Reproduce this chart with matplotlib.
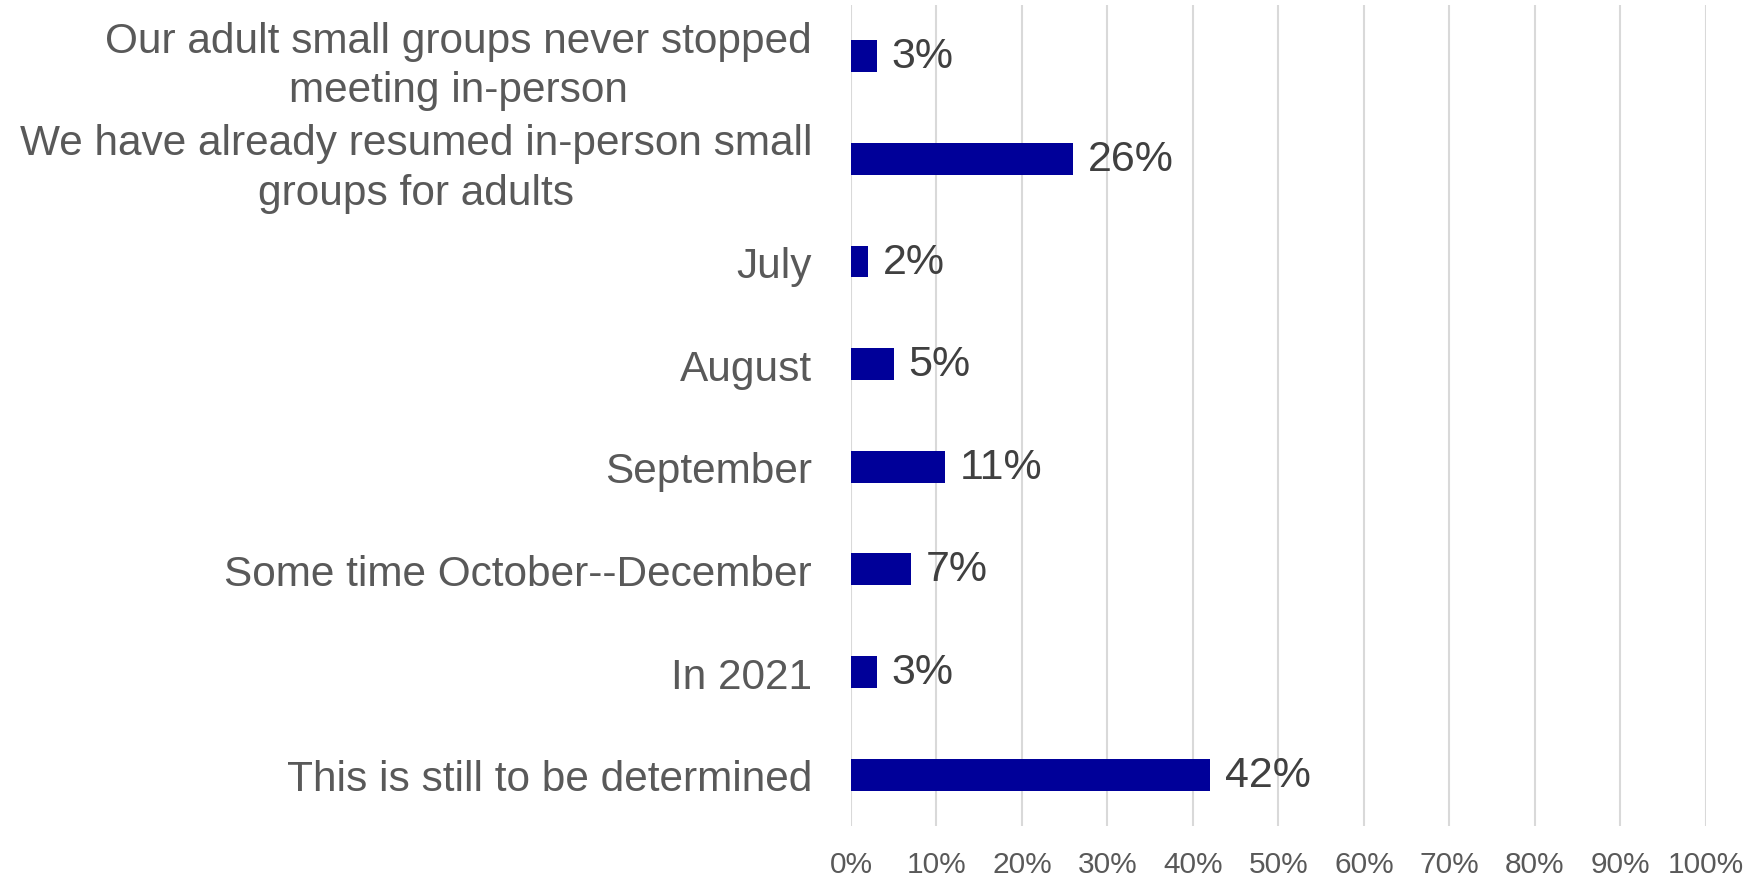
import numpy as np
import matplotlib.pyplot as plt

plt.rcParams['font.family'] = ['Liberation Sans', 'DejaVu Sans']

# data
categories = ["Our adult small groups never stopped\nmeeting in-person",
              "We have already resumed in-person small\ngroups for adults",
              "July",
              "August",
              "September",
              "Some time October--December",
              "In 2021",
              "This is still to be determined"]
values = [3, 26, 2, 5, 11, 7, 3, 42]
xticks = [0, 10, 20, 30, 40, 50, 60, 70, 80, 90, 100]
xtick_labels = ["%d%%" % t for t in xticks]

fig = plt.figure(figsize=(17.6, 8.79), dpi=100)
ax = fig.add_axes([0.4835, 0.0592, 0.4858, 0.934])

y = np.arange(len(categories))
ax.barh(y, values, height=0.31, color='#000099', zorder=3)

for yi, v in zip(y, values):
    ax.text(v + 1.7, yi, "%d%%" % v, va='center', ha='left',
            fontsize=31, color='#404040', zorder=4)

ax.set_xlim(0, 100)
ax.set_ylim(len(categories) - 0.5, -0.5)
ax.set_yticks(y)
ax.set_yticklabels(categories, fontsize=30.5, color='#595959',
                   multialignment='center', linespacing=1.3)
ax.set_xticks(xticks)
ax.set_xticklabels(xtick_labels, fontsize=21.5, color='#595959')
ax.tick_params(axis='y', length=0, pad=28)
ax.tick_params(axis='x', length=0, pad=17)

ax.grid(axis='x', color='#d9d9d9', linewidth=1.5, zorder=0)
for s in ax.spines.values():
    s.set_visible(False)

fig.savefig('out.png', dpi=100)
